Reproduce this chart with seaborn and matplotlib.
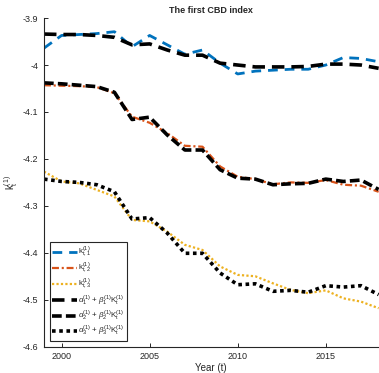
import numpy as np
import pandas as pd
import matplotlib
matplotlib.use('Agg')
import matplotlib.pyplot as plt
import seaborn as sns

# Years and the fitted CBD indices
years = list(range(1999, 2019))

k1 = [-3.964, -3.937, -3.935, -3.933, -3.929, -3.961, -3.937, -3.957, -3.977, -3.968,
      -3.996, -4.019, -4.013, -4.011, -4.009, -4.009, -4.000, -3.984, -3.986, -3.993]
k2 = [-4.043, -4.044, -4.045, -4.047, -4.060, -4.110, -4.123, -4.145, -4.172, -4.174,
      -4.216, -4.238, -4.243, -4.254, -4.250, -4.251, -4.245, -4.255, -4.257, -4.270]
k3 = [-4.227, -4.248, -4.252, -4.266, -4.280, -4.330, -4.333, -4.355, -4.383, -4.394,
      -4.429, -4.447, -4.450, -4.465, -4.479, -4.486, -4.480, -4.497, -4.504, -4.518]
fit1 = [-3.934, -3.935, -3.935, -3.937, -3.941, -3.957, -3.955, -3.968, -3.979, -3.979,
        -3.996, -4.000, -4.004, -4.004, -4.004, -4.003, -3.998, -3.998, -4.000, -4.007]
fit2 = [-4.038, -4.040, -4.043, -4.046, -4.058, -4.116, -4.111, -4.149, -4.181, -4.181,
        -4.223, -4.241, -4.243, -4.255, -4.253, -4.252, -4.243, -4.248, -4.245, -4.265]
fit3 = [-4.243, -4.248, -4.250, -4.255, -4.270, -4.328, -4.325, -4.358, -4.401, -4.401,
        -4.443, -4.468, -4.466, -4.482, -4.480, -4.484, -4.470, -4.473, -4.470, -4.489]

labels = [r'$\mathrm{k}_{\mathrm{t,1}}^{(1)}$',
          r'$\mathrm{k}_{\mathrm{t,2}}^{(1)}$',
          r'$\mathrm{k}_{\mathrm{t,3}}^{(1)}$',
          r'$\alpha_1^{(1)}+\,\beta_1^{(1)}\mathrm{K}_\mathrm{t}^{(1)}$',
          r'$\alpha_2^{(1)}+\,\beta_2^{(1)}\mathrm{K}_\mathrm{t}^{(1)}$',
          r'$\alpha_3^{(1)}+\,\beta_3^{(1)}\mathrm{K}_\mathrm{t}^{(1)}$']

yticks = [-4.6, -4.5, -4.4, -4.3, -4.2, -4.1, -4.0, -3.9]
ytick_labels = ['-4.6', '-4.5', '-4.4', '-4.3', '-4.2', '-4.1', '-4', '-3.9']
xticks = [2000, 2005, 2010, 2015]

sns.set_style('ticks')
plt.rcParams['font.family'] = ['Liberation Sans', 'DejaVu Sans']
plt.rcParams['mathtext.fontset'] = 'custom'
plt.rcParams['mathtext.rm'] = 'Liberation Sans'
plt.rcParams['mathtext.it'] = 'Liberation Sans:italic'
plt.rcParams['lines.scale_dashes'] = False

grey = '#262626'
fig = plt.figure(figsize=(3.79, 3.73), dpi=100)
ax = fig.add_axes([0.116, 0.0705, 0.883, 0.881])

series = [
    (k1, '#0072BD', 2.0, (0, (7, 5))),
    (k2, '#D95319', 1.6, (0, (5, 2, 1.5, 2))),
    (k3, '#EDB120', 1.6, (0, (1.6, 1.6))),
    (fit1, 'black', 2.6, (0, (9, 5))),
    (fit2, 'black', 2.6, (0, (7, 3))),
    (fit3, 'black', 2.6, (0, (2.6, 2.6))),
]
for (vals, col, lw, ls), lab in zip(series, labels):
    sns.lineplot(x=years, y=vals, color=col, linewidth=lw, linestyle=ls,
                 label=lab, ax=ax, dash_capstyle='butt')

ax.set_xlim(1999, 2018)
ax.set_ylim(-4.6, -3.9)
ax.set_xticks(xticks)
ax.set_yticks(yticks)
ax.set_yticklabels(ytick_labels)
ax.tick_params(direction='in', length=3, width=0.7, labelsize=6.5, colors=grey, pad=4)
for s in ['top', 'right']:
    ax.spines[s].set_visible(False)
for s in ['left', 'bottom']:
    ax.spines[s].set_color(grey)
    ax.spines[s].set_linewidth(0.8)

ax.set_title('The first CBD index', fontsize=6.5, fontweight='bold', pad=4)
ax.set_xlabel('Year (t)', fontsize=7, color=grey, labelpad=1)
ax.set_ylabel(r'$\mathrm{k}_\mathrm{t}^{(1)}$', fontsize=7, color=grey, labelpad=2)

leg = ax.legend(loc='lower left', bbox_to_anchor=(0.018, 0.018), borderaxespad=0,
                fontsize=5.8, frameon=True, fancybox=False, framealpha=1,
                handlelength=3.0, handletextpad=0.2, labelspacing=0.12,
                borderpad=0.3)
leg.get_frame().set_edgecolor(grey)
leg.get_frame().set_linewidth(0.8)
for t in leg.get_texts():
    t.set_color(grey)

fig.savefig('out.png', dpi=100)
